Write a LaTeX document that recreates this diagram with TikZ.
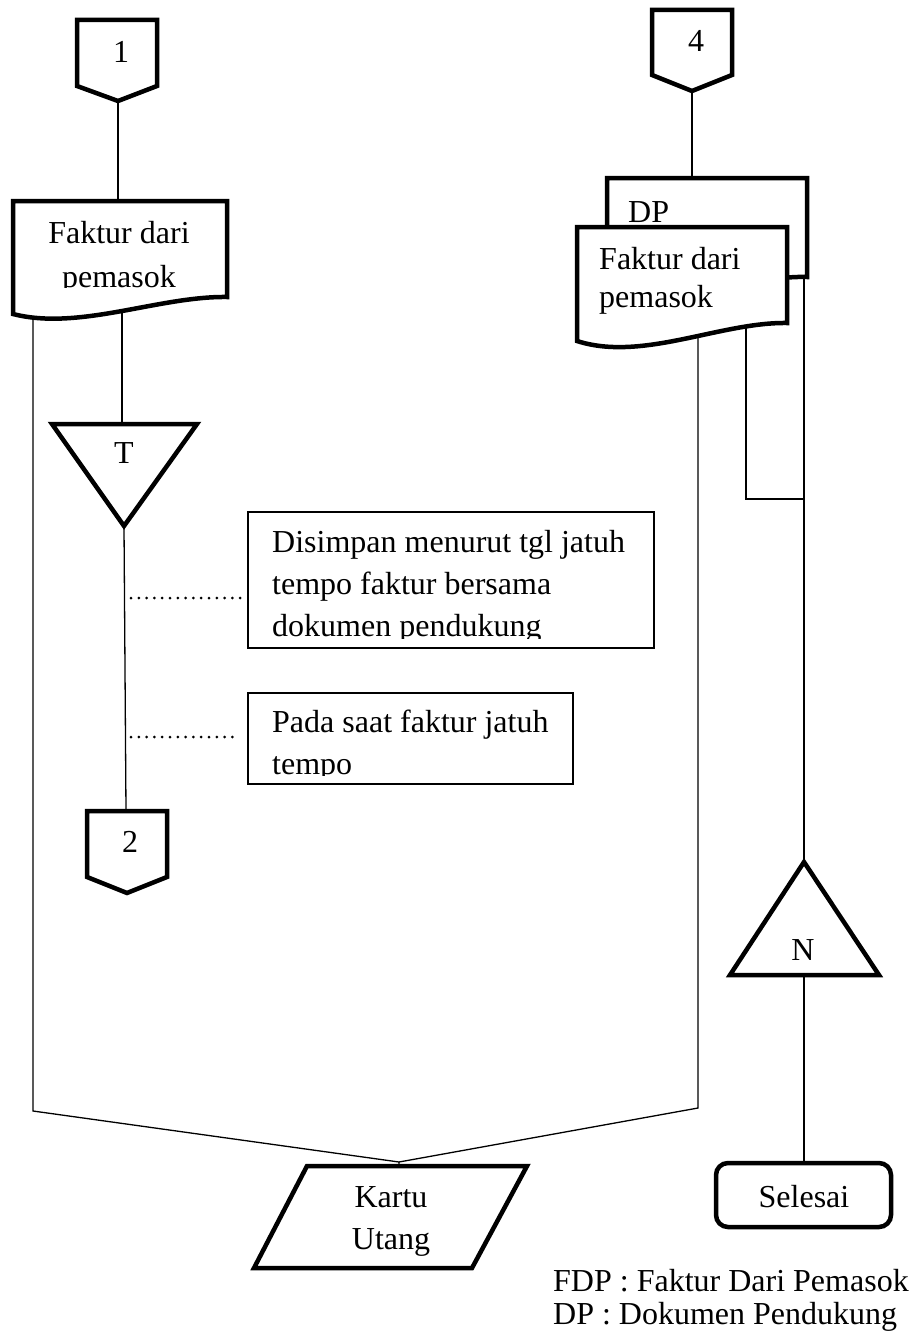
\documentclass[tikz,border=0pt]{standalone}
\usepackage{fontspec}
\setmainfont{Liberation Serif}
\begin{document}
\begin{tikzpicture}[x=1pt, y=-1pt,
  symbol/.style={draw, line width=4.5pt, fill=white},
  flow/.style={draw, line width=1.3pt},
  notebox/.style={draw, line width=1.5pt, fill=white},
  dotline/.style={line width=3pt, line cap=round, dash pattern=on 0pt off 7.8pt},
  lbl/.style={font=\fontsize{32}{38}\selectfont, inner sep=0pt},
]
\useasboundingbox (0,0) rectangle (914,1338);

% ---- anchor points of the flow lines ----
\coordinate (c1tip) at (118,101);
\coordinate (d1top) at (118,201);
\coordinate (d1outL) at (33,300);
\coordinate (d1outM) at (122,300);
\coordinate (bendL) at (33,1111);
\coordinate (merge) at (399,1162);
\coordinate (kartuTop) at (399,1166);
\coordinate (tTop) at (122,424);
\coordinate (tApex) at (124,526);
\coordinate (c2top) at (126,811);
\coordinate (c4tip) at (692,91);
\coordinate (dpTop) at (692,178);
\coordinate (d2outA) at (698,320);
\coordinate (bendR) at (698,1108);
\coordinate (d2outB) at (746,320);
\coordinate (bendB) at (746,499);
\coordinate (joinR) at (804,499);
\coordinate (dpOut) at (804,260);
\coordinate (nApex) at (804,862);
\coordinate (nBase) at (804,975);
\coordinate (selTop) at (804,1163);
\coordinate (dotA1) at (131,598);
\coordinate (dotA2) at (244,598);
\coordinate (dotB1) at (131,737);
\coordinate (dotB2) at (238,737);

% ---- flow lines (drawn first, symbols cover their ends) ----
\draw[flow] (c1tip) -- (d1top);
\draw[flow] (d1outL) -- (bendL) -- (merge) -- (kartuTop);
\draw[flow] (d1outM) -- (tTop);
\draw[flow] (tApex) -- (c2top);
\draw[flow] (c4tip) -- (dpTop);
\draw[flow] (d2outA) -- (bendR) -- (merge);
\draw[flow] (d2outB) -- (bendB) -- (joinR);
\draw[flow] (dpOut) -- (nApex);
\draw[flow] (nBase) -- (selTop);
\draw[dotline] (dotA1) -- (dotA2);
\draw[dotline] (dotB1) -- (dotB2);

% ---- off-page connectors ----
\draw[symbol] (77,20) -- (157,20) -- (157,86) -- (c1tip) -- (77,86) -- cycle;
\node[lbl, anchor=base] (lab1) at (121,63) {1};
\draw[symbol] (652,10) -- (732,10) -- (732,75) -- (c4tip) -- (652,75) -- cycle;
\node[lbl, anchor=base] (lab4) at (696,52) {4};
\draw[symbol] (87,811) -- (167,811) -- (167,877) -- (127,893) -- (87,877) -- cycle;
\node[lbl, anchor=base] (lab2) at (130,852) {2};

% ---- documents ----
% DP (behind)
\draw[symbol] (607,178) -- (807,178) -- (807,277)
  .. controls (743,275) and (669,315) .. (607,294) -- cycle;
\node[lbl, anchor=base west] (dpText) at (628,222) {DP};
% Faktur dari pemasok (right, in front of DP)
\draw[symbol] (577,227) -- (787,227) -- (787,323)
  .. controls (720,322) and (642,362) .. (577,341) -- cycle;
\node[lbl, anchor=base west] (fd2a) at (599,269) {Faktur dari};
\node[lbl, anchor=base west] (fd2b) at (599,307) {pemasok};
% Faktur dari pemasok (left)
\draw[symbol] (13,201) -- (227,201) -- (227,297)
  .. controls (159,296) and (79,331) .. (13,314) -- cycle;
\begin{scope}
  \clip (13,201) rectangle (227,287);
  \node[lbl, anchor=base] (fd1a) at (119,243) {Faktur dari};
  \node[lbl, anchor=base] (fd1b) at (119,287) {pemasok};
\end{scope}

% ---- file symbols ----
\draw[symbol] (52,424) -- (197,424) -- (tApex) -- cycle;
\node[lbl, anchor=base] (labT) at (124,463) {T};
\draw[symbol] (nApex) -- (879,975) -- (730,975) -- cycle;
\node[lbl, anchor=base] (labN) at (803,960) {N};

% ---- notes ----
\draw[notebox] (248,512) rectangle (654,648);
\begin{scope}
  \clip (248,512) rectangle (654,638);
  \node[lbl, anchor=base west] (n1a) at (272,552) {Disimpan menurut tgl jatuh};
  \node[lbl, anchor=base west] (n1b) at (272,594) {tempo faktur bersama};
  \node[lbl, anchor=base west] (n1c) at (272,636) {dokumen pendukung};
\end{scope}
\draw[notebox] (248,693) rectangle (573,784);
\begin{scope}
  \clip (248,693) rectangle (573,775);
  \node[lbl, anchor=base west] (n2a) at (272,732) {Pada saat faktur jatuh};
  \node[lbl, anchor=base west] (n2b) at (272,774) {tempo};
\end{scope}

% ---- ledger card ----
\draw[symbol] (307,1166) -- (527,1166) -- (472,1268) -- (254,1268) -- cycle;
\node[lbl, anchor=base] (kartu) at (391,1207) {Kartu};
\node[lbl, anchor=base] (utang) at (391,1249) {Utang};

% ---- terminator ----
\draw[symbol, rounded corners=12pt] (716,1163) rectangle (891,1227);
\node[lbl, anchor=base] (selesai) at (804,1207) {Selesai};

% ---- legend ----
\node[lbl, anchor=base west] (leg1) at (553,1291) {FDP : Faktur Dari Pemasok};
\node[lbl, anchor=base west] (leg2) at (553,1324) {DP : Dokumen Pendukung};
\end{tikzpicture}
\end{document}
